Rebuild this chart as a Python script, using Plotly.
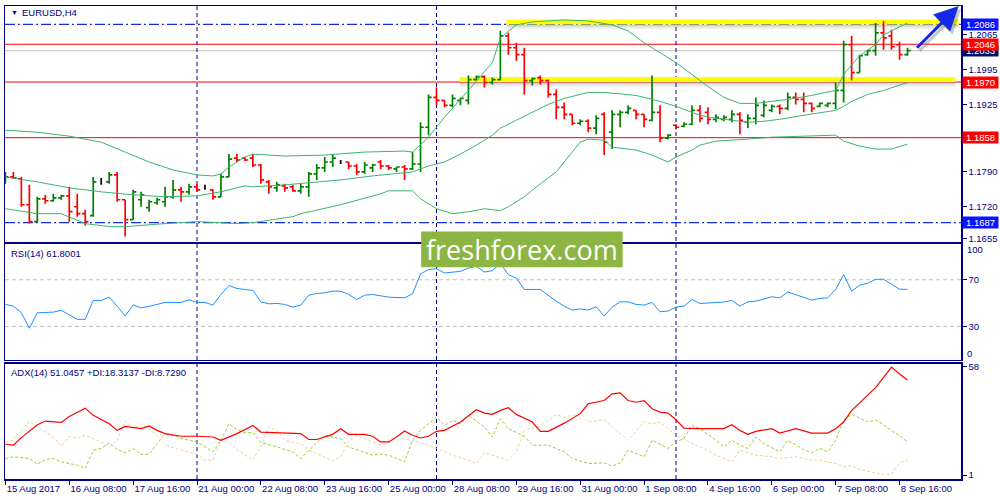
import plotly.graph_objects as go

# ---------------- data ----------------
bars = list(range(114))  # H4 bars, 15 Aug 2017 00:00 ... 8 Sep 2017 20:00

opens = [1.1769,1.1779,1.1775,1.1723,1.1689,1.1735,1.1731,1.1737,1.1741,1.1719,
         1.1705,1.1701,1.1769,1.1769,1.1783,1.1733,1.1693,1.1733,1.1717,1.1727,
         1.1729,1.1739,1.1753,1.1749,1.1759,1.1757,1.1753,1.1739,1.1779,1.1817,
         1.1817,1.1817,1.1803,1.1769,1.1757,1.1761,1.1759,1.1751,1.1759,1.1785,
         1.1797,1.1809,1.1809,1.1809,1.1801,1.1789,1.1797,1.1809,1.1801,1.1795,
         1.1799,1.1795,1.1805,1.1879,1.1939,1.1933,1.1923,1.1933,1.1933,1.1975,
         1.1981,1.1969,1.1975,1.2063,1.2039,1.2025,1.1973,1.1979,1.1973,1.1945,
         1.1919,1.1905,1.1887,1.1891,1.1877,1.1905,1.1869,1.1905,1.1909,1.1913,
         1.1905,1.1893,1.1909,1.1857,1.1883,1.1881,1.1885,1.1913,1.1909,1.1895,
         1.1895,1.1895,1.1905,1.1889,1.1897,1.1903,1.1913,1.1921,1.1917,1.1939,
         1.1935,1.1927,1.1921,1.1923,1.1927,1.1953,1.2045,1.1989,1.2025,1.2033,
         1.2069,1.2063,1.2045,1.2025]
highs = [1.1789,1.1789,1.1779,1.1763,1.1739,1.1743,1.1745,1.1743,1.1759,1.1745,
         1.1713,1.1779,1.1777,1.1789,1.1789,1.1733,1.1753,1.1749,1.1733,1.1737,
         1.1759,1.1773,1.1759,1.1765,1.1765,1.1763,1.1753,1.1785,1.1825,1.1825,
         1.1819,1.1825,1.1805,1.1773,1.1769,1.1765,1.1763,1.1765,1.1789,1.1805,
         1.1819,1.1823,1.1813,1.1809,1.1805,1.1809,1.1805,1.1813,1.1803,1.1799,
         1.1803,1.1829,1.1889,1.1945,1.1959,1.1933,1.1945,1.1939,1.1983,1.1983,
         1.1983,1.1979,1.2073,1.2069,1.2049,1.2039,1.1979,1.1983,1.1975,1.1955,
         1.1929,1.1905,1.1895,1.1895,1.1903,1.1909,1.1913,1.1913,1.1923,1.1913,
         1.1905,1.1983,1.1923,1.1865,1.1885,1.1889,1.1923,1.1923,1.1919,1.1905,
         1.1903,1.1913,1.1909,1.1905,1.1939,1.1933,1.1925,1.1925,1.1949,1.1949,
         1.1949,1.1929,1.1929,1.1929,1.1969,1.2053,1.2063,1.2025,1.2035,1.2089,
         1.2093,1.2075,1.2051,1.2039]
lows = [1.1765,1.1775,1.1719,1.1685,1.1687,1.1725,1.1729,1.1733,1.1689,1.1699,
        1.1681,1.1699,1.1763,1.1765,1.1729,1.1659,1.1693,1.1719,1.1709,1.1723,
        1.1719,1.1735,1.1729,1.1743,1.1749,1.1753,1.1733,1.1739,1.1779,1.1809,
        1.1811,1.1799,1.1765,1.1745,1.1749,1.1749,1.1749,1.1745,1.1739,1.1773,
        1.1789,1.1799,1.1805,1.1795,1.1783,1.1785,1.1789,1.1795,1.1793,1.1789,
        1.1773,1.1793,1.1789,1.1863,1.1923,1.1919,1.1919,1.1923,1.1925,1.1973,
        1.1959,1.1965,1.1973,1.2025,1.2013,1.1945,1.1963,1.1965,1.1939,1.1895,
        1.1895,1.1883,1.1883,1.1869,1.1865,1.1823,1.1835,1.1879,1.1905,1.1895,
        1.1879,1.1891,1.1849,1.1855,1.1875,1.1879,1.1883,1.1889,1.1885,1.1889,
        1.1891,1.1889,1.1865,1.1877,1.1885,1.1899,1.1909,1.1905,1.1913,1.1925,
        1.1909,1.1909,1.1919,1.1919,1.1915,1.1929,1.1973,1.1989,1.2023,1.2023,
        1.2035,1.2035,1.2015,1.2023]
closes = [1.1779,1.1777,1.1723,1.1689,1.1735,1.1731,1.1737,1.1741,1.1709,1.1705,
          1.1689,1.1769,1.1769,1.1783,1.1733,1.1693,1.1749,1.1743,1.1729,1.1733,
          1.1739,1.1753,1.1749,1.1759,1.1753,1.1757,1.1739,1.1779,1.1815,1.1813,
          1.1813,1.1803,1.1773,1.1759,1.1763,1.1757,1.1751,1.1759,1.1785,1.1797,
          1.1809,1.1817,1.1809,1.1801,1.1789,1.1803,1.1803,1.1801,1.1797,1.1799,
          1.1795,1.1805,1.1879,1.1939,1.1933,1.1923,1.1937,1.1937,1.1975,1.1981,
          1.1969,1.1975,1.2063,1.2039,1.2025,1.1973,1.1977,1.1973,1.1945,1.1919,
          1.1905,1.1887,1.1891,1.1877,1.1897,1.1849,1.1905,1.1909,1.1917,1.1905,
          1.1895,1.1909,1.1857,1.1863,1.1879,1.1885,1.1913,1.1897,1.1895,1.1899,
          1.1899,1.1905,1.1893,1.1897,1.1923,1.1923,1.1921,1.1917,1.1939,1.1935,
          1.1927,1.1917,1.1927,1.1927,1.1953,1.2045,1.1989,1.2023,1.2033,1.2069,
          1.2059,1.2041,1.2025,1.2033]

# Bollinger bands (bar index, price)
bb_upper_idx = [0,4,8,12,15,18,21,24,26,27,28,30,31,35,40,45,50,51,53,55,57,59,61,62,63,64,66,70,73,76,78,80,82,84,86,88,90,92,94,96,98,101,104,105,107,109,110,112,113]
bb_upper = [1.1873,1.1869,1.1861,1.1849,1.1829,1.1809,1.1793,1.1783,1.1781,1.1785,1.1799,1.1819,1.1825,1.1821,1.1823,1.1829,1.1831,1.1829,1.1859,1.1899,1.1935,1.1973,1.2009,1.2059,1.2073,1.2085,1.2091,1.2095,1.2093,1.2085,1.2073,1.2049,1.2029,1.2009,1.1985,1.1961,1.1939,1.1927,1.1927,1.1931,1.1935,1.1943,1.1953,1.1985,1.2023,1.2045,1.2065,1.2081,1.2089]
bb_mid_idx = [0,4,8,12,16,20,24,27,30,31,35,38,42,46,50,51,53,55,57,59,61,62,64,66,68,70,72,73,75,79,82,84,86,87,89,91,93,95,97,100,104,105,106,108,110,113]
bb_mid = [1.1779,1.1769,1.1757,1.1749,1.1743,1.1739,1.1741,1.1749,1.1761,1.1759,1.1763,1.1767,1.1773,1.1781,1.1787,1.1789,1.1801,1.1809,1.1825,1.1843,1.1863,1.1877,1.1893,1.1909,1.1925,1.1937,1.1945,1.1949,1.1949,1.1943,1.1931,1.1921,1.1909,1.1903,1.1897,1.1893,1.1889,1.1891,1.1895,1.1903,1.1913,1.1921,1.1931,1.1945,1.1953,1.1969]
bb_lower_idx = [0,4,7,10,13,15,20,24,29,31,36,37,42,47,48,51,52,54,56,58,60,62,63,65,67,69,71,72,73,75,76,79,81,83,84,86,87,89,93,96,104,105,107,109,111,113]
bb_lower = [1.1715,1.1705,1.1705,1.1685,1.1679,1.1679,1.1685,1.1689,1.1685,1.1687,1.1699,1.1705,1.1723,1.1745,1.1751,1.1751,1.1735,1.1715,1.1705,1.1709,1.1715,1.1711,1.1719,1.1739,1.1765,1.1789,1.1829,1.1849,1.1855,1.1853,1.1839,1.1833,1.1823,1.1809,1.1819,1.1833,1.1843,1.1851,1.1855,1.1859,1.1863,1.1851,1.1841,1.1835,1.1835,1.1845]

# RSI(14)
rsi_idx = [0,1,2,3,4,6,7,9,10,11,12,13,14,15,16,17,18,19,20,22,23,24,25,26,27,28,29,30,31,32,33,34,35,36,37,38,39,40,41,42,43,44,45,46,48,50,51,52,53,54,55,57,58,59,60,61,62,63,64,65,67,69,70,71,72,73,74,75,76,77,78,79,80,81,82,83,84,85,86,87,88,90,91,92,93,94,96,97,98,99,101,102,103,104,105,106,107,108,109,110,111,112,113]
rsi_val = [48.9,47.4,41.7,28.5,41.7,42.3,43.8,36.1,36.1,52.3,52.3,55.1,47.4,38.9,48.3,46.0,47.2,48.9,50.6,50.6,52.8,50.6,50.6,48.3,57.4,65.1,62.5,61.7,60.8,51.1,49.4,49.7,48.9,46.6,48.3,56.8,58.3,58.8,60.2,60.2,57.4,53.1,56.8,57.4,55.1,54.5,57.9,75.0,78.7,79.5,75.8,77.2,80.0,81.5,76.6,77.8,84.3,74.4,71.5,61.7,61.7,51.7,47.4,44.0,45.1,44.0,46.9,38.9,46.6,51.1,51.1,48.9,48.3,50.6,42.6,43.2,46.6,47.4,53.1,49.7,50.3,50.9,52.3,47.4,51.1,51.7,55.4,54.5,59.6,57.4,52.6,54.0,54.5,61.7,74.5,60.2,65.3,67.0,70.4,70.4,66.2,61.9,61.8]

# ADX(14), +DI, -DI
adx_idx = [0,1,2,4,5,6,7,8,10,11,12,13,14,15,17,18,19,20,22,24,26,27,29,31,32,35,37,38,39,41,42,43,45,46,47,48,49,50,51,52,53,54,55,57,59,60,61,62,63,64,66,67,68,70,72,73,75,76,77,78,79,80,81,82,83,84,85,87,90,91,92,93,94,96,97,99,101,103,104,105,106,107,108,109,110,111,112,113]
adx_val = [17.2,16.7,20.7,27.5,29.4,28.9,28.7,31.8,36.2,32.4,30.0,28.0,24.5,26.6,25.4,26.8,24.5,22.8,21.4,21.4,21.0,19.3,22.8,27.1,23.6,23.1,22.8,19.7,19.7,22.4,25.4,22.4,22.4,21.4,18.4,18.4,21.0,24.2,21.9,20.5,21.4,24.0,24.5,28.9,35.4,33.6,32.9,35.0,36.4,32.9,28.9,24.0,24.0,28.3,33.3,38.5,40.2,43.7,44.2,40.2,39.3,40.2,35.9,34.1,33.6,30.1,25.7,25.4,25.4,27.5,24.5,22.4,24.0,25.4,23.1,25.4,23.1,23.1,25.4,28.9,35.0,39.0,43.0,47.0,52.4,57.8,54.2,51.0]
pdi_idx = [0,1,3,4,5,6,7,9,10,11,12,13,14,15,16,17,18,19,20,21,22,24,25,26,27,28,29,30,31,32,34,36,37,38,39,40,42,43,45,46,47,48,49,50,51,52,54,55,56,57,58,60,61,62,63,65,66,68,70,71,73,75,76,77,78,80,81,83,84,85,86,87,89,90,91,92,93,94,95,97,98,99,100,101,102,103,104,105,106,107,108,109,110,111,112,113]
pdi_val = [9.7,10.6,9.7,6.7,9.2,9.7,7.9,6.2,4.5,14.1,15.0,17.9,14.5,12.7,15.0,11.9,11.9,17.6,22.4,21.9,20.2,18.4,15.8,13.2,19.3,28.0,25.0,23.3,23.3,18.1,15.8,13.2,9.7,14.1,18.1,21.9,20.2,15.8,13.2,11.5,12.0,11.5,9.7,7.9,19.3,24.5,31.5,27.1,29.8,28.0,32.4,26.3,21.0,30.6,25.4,21.4,16.7,16.7,13.2,9.7,7.1,7.4,5.7,7.4,14.1,10.6,19.3,15.0,18.4,20.2,27.1,25.4,19.3,15.8,19.3,16.7,15.0,21.0,17.6,13.2,19.3,16.7,14.4,12.7,15.0,13.2,19.3,30.0,33.0,31.0,29.0,30.0,27.5,24.2,21.9,18.3]
mdi_idx = [0,1,2,3,4,6,7,8,9,10,12,13,14,15,16,17,19,20,22,24,25,26,27,28,29,31,32,33,34,35,36,37,38,40,41,42,43,44,45,46,47,49,50,51,52,54,56,58,59,60,61,63,64,65,66,67,69,70,72,73,75,76,78,80,81,82,84,86,88,89,91,92,94,96,97,99,101,102,104,105,106,107,108,109,110,111,112,113]
mdi_val = [18.4,19.3,24.5,29.2,26.3,21.0,16.2,21.4,20.2,21.9,18.4,15.8,19.3,29.4,25.4,28.0,21.9,16.7,14.1,11.9,8.8,8.8,19.3,18.4,14.4,8.8,16.2,26.3,24.5,19.3,18.4,17.6,14.1,10.6,8.5,10.6,18.4,21.9,20.2,18.4,16.7,19.3,20.2,18.8,18.0,15.0,11.5,8.8,7.1,12.7,11.5,8.8,13.2,24.5,25.4,27.1,32.7,31.5,33.3,28.9,30.1,26.3,19.3,28.9,28.0,28.9,21.9,17.6,14.1,11.5,8.0,14.1,11.5,10.6,9.7,10.6,8.8,8.8,7.1,5.3,6.0,4.0,3.0,2.0,1.4,1.4,7.4,8.7]

x_tick_bars = [0, 8, 16, 24, 32, 40, 48, 56, 64, 72, 80, 88, 96, 104, 112]
x_tick_labels = ["15 Aug 2017", "16 Aug 08:00", "17 Aug 16:00", "21 Aug 00:00", "22 Aug 08:00",
                 "23 Aug 16:00", "25 Aug 00:00", "28 Aug 08:00", "29 Aug 16:00", "31 Aug 00:00",
                 "1 Sep 08:00", "4 Sep 16:00", "6 Sep 00:00", "7 Sep 08:00", "8 Sep 16:00"]
price_ticks = [1.2065, 1.1995, 1.1925, 1.1790, 1.1720, 1.1655]
week_separators = [24, 54, 84]
red_levels = [1.2046, 1.1970, 1.1858]
blue_levels = [1.2086, 1.1687]
bid_price = 1.2033
zone_prices = [1.2086, 1.1970]
zone_start_bars = [62.75, 56.9]
zone_end_bars = [119.4, 119.0]
arrow_from = (114.0, 1.2036)
arrow_to = (119.4, 1.2123)
rsi_levels = [70, 30]
adx_ticks = [58, 1]

# ---------------- styling ----------------
FONT = "Liberation Sans, Arial, sans-serif"
NAVY = "#000080"
GREEN = "#008000"
RED = "#FF0000"
BLUE = "#0A14FF"
BB = "#3CB371"
X_RANGE = [-0.05, 119.7]

fig = go.Figure()

# bars split by direction
groups = {GREEN: [], RED: [], "#000000": []}
for i in bars:
    if closes[i] > opens[i]:
        groups[GREEN].append(i)
    elif closes[i] < opens[i]:
        groups[RED].append(i)
    else:
        groups["#000000"].append(i)
for col, idx in groups.items():
    diffs = [b - a for a, b in zip(idx[:-1], idx[1:])]
    mind = min(diffs) if diffs else 1
    fig.add_trace(go.Ohlc(
        x=idx, open=[opens[i] for i in idx], high=[highs[i] for i in idx],
        low=[lows[i] for i in idx], close=[closes[i] for i in idx],
        increasing=dict(line=dict(color=col, width=1.7)),
        decreasing=dict(line=dict(color=col, width=1.7)),
        tickwidth=min(0.5, 0.4 / mind), showlegend=False, hoverinfo="skip",
        xaxis="x", yaxis="y"))

for xs, ys in [(bb_upper_idx, bb_upper), (bb_mid_idx, bb_mid), (bb_lower_idx, bb_lower)]:
    fig.add_trace(go.Scatter(x=xs, y=ys, mode="lines", line=dict(color=BB, width=1),
                             showlegend=False, hoverinfo="skip", xaxis="x", yaxis="y"))

fig.add_trace(go.Scatter(x=rsi_idx, y=rsi_val, mode="lines", line=dict(color="#1E90FF", width=1),
                         showlegend=False, hoverinfo="skip", xaxis="x2", yaxis="y2"))

fig.add_trace(go.Scatter(x=pdi_idx, y=pdi_val, mode="lines", line=dict(color="#9ACD32", width=1, dash="3px,2px"),
                         showlegend=False, hoverinfo="skip", xaxis="x3", yaxis="y3"))
fig.add_trace(go.Scatter(x=mdi_idx, y=mdi_val, mode="lines", line=dict(color="#F2CF9A", width=1, dash="3px,2px"),
                         showlegend=False, hoverinfo="skip", xaxis="x3", yaxis="y3"))
fig.add_trace(go.Scatter(x=adx_idx, y=adx_val, mode="lines", line=dict(color=RED, width=1.2),
                         showlegend=False, hoverinfo="skip", xaxis="x3", yaxis="y3"))

shapes = []
# yellow highlight zones with soft shadow
for p, x0, x1 in zip(zone_prices, zone_start_bars, zone_end_bars):
    shapes.append(dict(type="rect", xref="x", yref="y", x0=x0, x1=x1, y0=p - 0.0010, y1=p - 0.0005,
                       fillcolor="rgba(120,120,120,0.12)", line=dict(width=0), layer="below"))
    shapes.append(dict(type="rect", xref="x", yref="y", x0=x0, x1=x1, y0=p - 0.0005, y1=p,
                       fillcolor="rgba(110,110,110,0.30)", line=dict(width=0), layer="below"))
    shapes.append(dict(type="rect", xref="x", yref="y", x0=x0, x1=x1, y0=p, y1=p + 0.0010,
                       fillcolor="#FFFF00", line=dict(width=0), layer="below"))
shapes.append(dict(type="line", xref="paper", yref="y", x0=0, x1=1, y0=bid_price, y1=bid_price,
                   line=dict(color="#C0C0C0", width=1), layer="below"))
for p in red_levels:
    shapes.append(dict(type="line", xref="paper", yref="y", x0=0, x1=1, y0=p, y1=p,
                       line=dict(color=RED, width=1), layer="below"))
for p in blue_levels:
    shapes.append(dict(type="line", xref="paper", yref="y", x0=0, x1=1, y0=p, y1=p,
                       line=dict(color="#1030E0", width=1.3, dash="10px,3px,2px,3px"), layer="below"))
for b in week_separators:
    shapes.append(dict(type="line", xref="x", yref="paper", x0=b, x1=b, y0=0, y1=1,
                       line=dict(color=NAVY, width=1, dash="4px,3px"), layer="below"))
for lv in rsi_levels:
    shapes.append(dict(type="line", xref="paper", yref="y2", x0=0, x1=1, y0=lv, y1=lv,
                       line=dict(color="#C0C0C0", width=1, dash="4px,3px"), layer="below"))
# logo box
shapes.append(dict(type="rect", xref="paper", yref="paper", x0=0.4353, x1=0.6461, y0=0.4475, y1=0.5231,
                   fillcolor="#8DB543", line=dict(width=0), layer="above"))

annotations = []
annotations.append(dict(text="freshforex.com", xref="paper", yref="paper", x=0.5407, y=0.4853,
                        showarrow=False, font=dict(family="Open Sans, sans-serif", size=27, color="white"),
                        xanchor="center", yanchor="middle"))
annotations.append(dict(text="▼", xref="paper", yref="paper", x=0.0042, y=0.9853, showarrow=False,
                        font=dict(family=FONT, size=7, color=NAVY), xanchor="left", yanchor="middle"))
annotations.append(dict(text="EURUSD,H4", xref="paper", yref="paper", x=0.0157, y=0.9853, showarrow=False,
                        font=dict(family=FONT, size=9.5, color=NAVY), xanchor="left", yanchor="middle"))
annotations.append(dict(text="RSI(14) 61.8001", xref="paper", yref="paper", x=0.0042, y=0.4769, showarrow=False,
                        font=dict(family=FONT, size=9.5, color=NAVY), xanchor="left", yanchor="middle"))
annotations.append(dict(text="ADX(14) 51.0457 +DI:18.3137 -DI:8.7290", xref="paper", yref="paper",
                        x=0.0042, y=0.2248, showarrow=False,
                        font=dict(family=FONT, size=9.5, color=NAVY), xanchor="left", yanchor="middle"))
annotations.append(dict(text="100", xref="paper", yref="paper", x=1.0045, y=0.4853, showarrow=False,
                        font=dict(family=FONT, size=9.5, color=NAVY), xanchor="left", yanchor="middle"))
annotations.append(dict(text="0", xref="paper", yref="paper", x=1.0045, y=0.2647, showarrow=False,
                        font=dict(family=FONT, size=9.5, color=NAVY), xanchor="left", yanchor="middle"))
# price boxes on the scale
box_list = [(1.2086, BLUE), (bid_price, "#00106A"), (1.2046, RED), (1.1970, RED), (1.1858, RED), (1.1687, BLUE)]
for p, col in box_list:
    annotations.append(dict(text=f"{p:.4f}", xref="paper", yref="y", x=1.001, y=p, showarrow=False,
                            font=dict(family=FONT, size=9.5, color="white"), bgcolor=col,
                            xanchor="left", yanchor="middle", borderpad=0, width=35, height=11, align="center"))
# blue arrow with shadow
annotations.append(dict(text="", xref="x", yref="y", axref="x", ayref="y",
                        x=arrow_to[0] + 0.3, y=arrow_to[1] - 0.0006,
                        ax=arrow_from[0] + 0.3, ay=arrow_from[1] - 0.0006,
                        showarrow=True, arrowhead=2, arrowsize=1.6, arrowwidth=3,
                        arrowcolor="rgba(100,100,100,0.35)"))
annotations.append(dict(text="", xref="x", yref="y", axref="x", ayref="y",
                        x=arrow_to[0], y=arrow_to[1], ax=arrow_from[0], ay=arrow_from[1],
                        showarrow=True, arrowhead=2, arrowsize=1.6, arrowwidth=3, arrowcolor="#1428E6"))

axis_common = dict(showgrid=False, zeroline=False, showline=True, mirror=True,
                   linecolor=NAVY, linewidth=1.5)
tickfont = dict(family=FONT, size=9.5, color=NAVY)

fig.update_layout(
    width=1000, height=500,
    margin=dict(l=3, r=39, t=3, b=21),
    paper_bgcolor="white", plot_bgcolor="white",
    hovermode=False, showlegend=False,
    shapes=shapes, annotations=annotations,
    xaxis=dict(domain=[0, 1], anchor="y", range=X_RANGE, showticklabels=False, ticks="",
               rangeslider=dict(visible=False), **axis_common),
    xaxis2=dict(domain=[0, 1], anchor="y2", range=X_RANGE, matches="x", showticklabels=False, ticks="",
                **axis_common),
    xaxis3=dict(domain=[0, 1], anchor="y3", range=X_RANGE, matches="x", tickvals=x_tick_bars,
                ticktext=x_tick_labels, ticks="outside", ticklen=4, tickcolor=NAVY, tickangle=0,
                ticklabelposition="outside right", tickfont=tickfont, **axis_common),
    yaxis=dict(domain=[0.5021, 1], anchor="x", range=[1.1649, 1.2123], side="right",
               tickvals=price_ticks, tickformat=".4f", ticks="outside", ticklen=4, tickcolor=NAVY,
               tickfont=tickfont, **axis_common),
    yaxis2=dict(domain=[0.2521, 0.4958], anchor="x2", range=[1.49, 100.21], side="right",
                tickvals=rsi_levels, ticks="outside", ticklen=4, tickcolor=NAVY,
                tickfont=tickfont, **axis_common),
    yaxis3=dict(domain=[0, 0.2437], anchor="x3", range=[-1.09, 59.57], side="right",
                tickvals=adx_ticks, ticks="outside", ticklen=4, tickcolor=NAVY,
                tickfont=tickfont, **axis_common),
)

fig.write_html("out.html", config={"displayModeBar": False, "staticPlot": True},
               post_script="document.body.style.margin='0';document.body.style.overflow='hidden';")
